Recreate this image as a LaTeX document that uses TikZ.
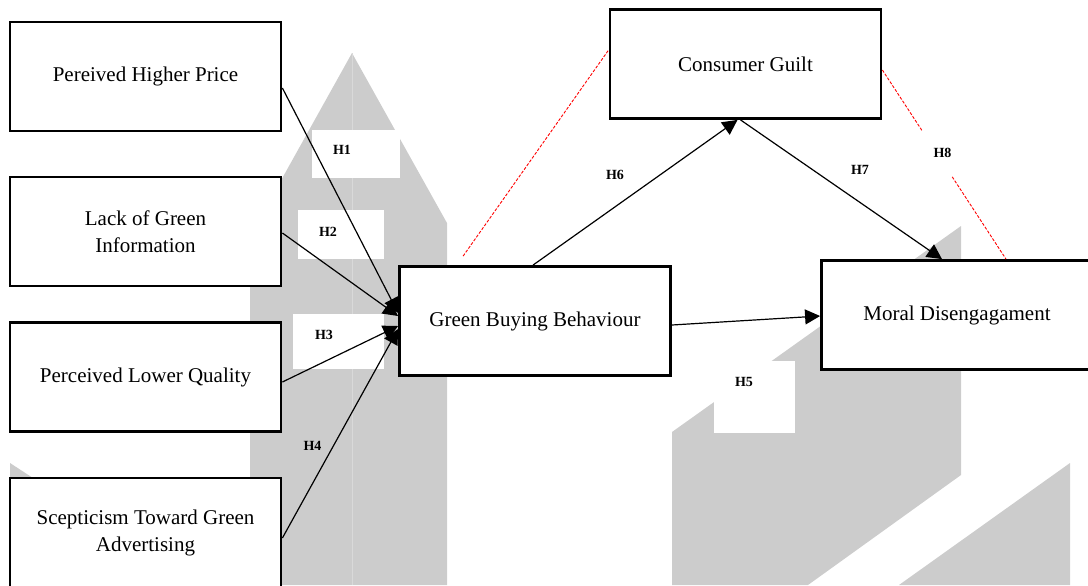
\documentclass[tikz,border=0pt]{standalone}
\usepackage{fontspec}
\setmainfont{Liberation Serif}
\usepackage{tikz}
\usetikzlibrary{arrows.meta,calc}

\begin{document}
\begin{tikzpicture}[x=0.5pt,y=-0.5pt,
  var/.style={draw,line width=1.4pt,fill=white,minimum width=135.5pt,minimum height=54.5pt,inner sep=0pt,align=center,font=\fontsize{10.5}{13.5}\selectfont},
  hyp/.style={inner sep=0pt,font=\fontsize{7}{8}\selectfont\bfseries},
  effect/.style={line width=0.6pt,-{Triangle[length=7.5pt,width=7.5pt]}},
  guilt/.style={red,line width=0.45pt,dash pattern=on 1.5pt off 0.8pt},
  wm/.style={fill=black!20}]
\clip (0,0) rectangle (1088,585);
\fill[wm] (352,53) -- (447,223) -- (447,585) -- (250,585) -- (250,236) -- cycle;
\draw[black!15,line width=0.5pt] (352,53) -- (352,585);
\fill[wm] (961,226) -- (961,475) -- (808,585) -- (672,585) -- (672,432) -- cycle;
\fill[wm] (1070,463) -- (1070,585) -- (899,585) -- cycle;
\fill[wm] (10,463) -- (33,478) -- (10,478) -- cycle;
\fill[white] (312,130) rectangle (400,178);
\fill[white] (298,210) rectangle (384,259);
\fill[white] (293,314) rectangle (384,369);
\fill[white] (714,361) rectangle (795,433);

\node[var] (hp) at (145.5,76.5) {Pereived Higher Price};
\node[var] (lgi) at (145.5,231.5) {Lack of Green\\Information};
\node[var] (plq) at (145.5,377) {Perceived Lower Quality};
\node[var] (sga) at (145.5,532.5) {Scepticism Toward Green\\Advertising};
\node[var] (gbb) at (535,321) {Green Buying Behaviour};
\node[var] (cg) at (745.5,64) {Consumer Guilt};
\node[var] (md) at (957,315) {Moral Disengagament};

\draw[effect] ($(hp.east)+(0,11.5)$) -- ($(gbb.west)+(0,-8)$);
\draw[effect] ($(lgi.east)+(0,1.5)$) -- ($(gbb.west)+(0,-5)$);
\draw[effect] ($(plq.east)+(0,5)$) -- ($(gbb.west)+(0,5)$);
\draw[effect] ($(sga.east)+(0,5.5)$) -- ($(gbb.west)+(0,8)$);
\draw[effect] ($(gbb.east)+(0,4)$) -- ($(md.west)+(0,1)$);
\draw[effect] ($(gbb.north)+(-2,0)$) -- ($(cg.south)+(-8,0)$);
\draw[effect] ($(cg.south)+(-5,0)$) -- ($(md.north)+(-15,0)$);

\draw[guilt] ($(gbb.north west)+(65,-9)$) -- ($(cg.west)+(0,-14)$);
\coordinate (g8) at ($(cg.east)+(0,6)$);
\coordinate (m8) at ($(md.north)+(49,0)$);
\draw[guilt] (g8) -- ($(g8)!0.325!(m8)$) ($(g8)!0.565!(m8)$) -- (m8);

\node[hyp] (h1) at (342,150) {H1};
\node[hyp] (h2) at (328,232) {H2};
\node[hyp] (h3) at (324,335) {H3};
\node[hyp] (h4) at (312.5,446) {H4};
\node[hyp] (h5) at (744,382) {H5};
\node[hyp] (h6) at (615,175) {H6};
\node[hyp] (h7) at (860,170) {H7};
\node[hyp] (h8) at (942.5,153) {H8};
\end{tikzpicture}
\end{document}
